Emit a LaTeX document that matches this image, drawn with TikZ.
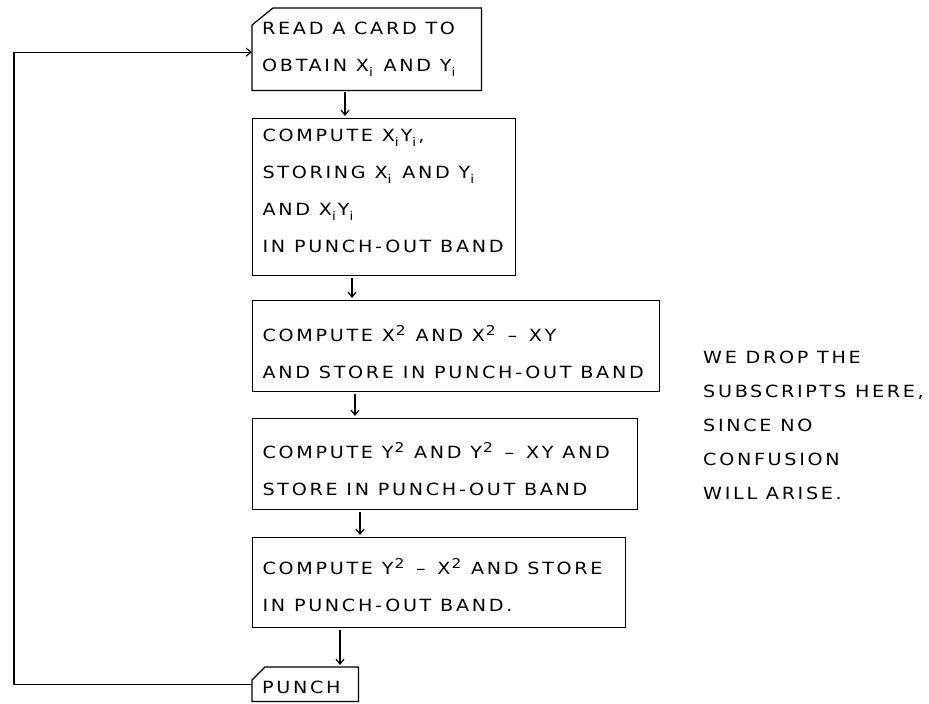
\documentclass[tikz,border=0pt]{standalone}
\usepackage{fontspec}
\setmainfont{DejaVu Sans}[FakeStretch=1.14, LetterSpace=16]
\usetikzlibrary{arrows.meta}
\newcommand{\lsub}[1]{\raisebox{-5pt}{\fontsize{12}{12}\selectfont #1}\kern2pt\relax}
\newcommand{\lsup}[1]{\kern1pt\raisebox{6.5pt}{\fontsize{13.5}{13.5}\selectfont #1}\kern1pt\relax}
\newcommand{\ldash}{\kern2pt–\kern3pt\relax}
\newcommand{\tstrut}[1]{\rule{0pt}{#1pt}}
\newcommand{\bstrut}[1]{\rule[-#1pt]{0pt}{#1pt}}
\newcommand{\wline}[2]{\makebox[#1pt][l]{#2}}
\begin{document}
\begin{tikzpicture}[x=1pt,y=-1pt,
  boxbase/.style={rectangle, anchor=north west, inner xsep=10pt, inner ysep=0pt,
    align=left, font=\fontsize{16.8}{37}\selectfont},
  box/.style={boxbase, draw, line width=1.2pt},
  note/.style={align=left, font=\fontsize{16.8}{34}\selectfont, inner sep=0pt},
  edge/.style={line width=1.2pt},
  arr/.style={edge, -{Straight Barb[length=5pt,width=8pt]}}]
\useasboundingbox (0,0) rectangle (929,704);

\node[boxbase, minimum width=229pt, minimum height=82pt] (b1) at (252,8)
  {\wline{209}{\tstrut{20}READ A CARD TO}\\OBTAIN X\lsub{i} AND Y\lsub{i}\bstrut{13}};
\draw[edge] ([yshift=-17pt]b1.north west) -- ([xshift=21pt]b1.north west) -- (b1.north east)
  -- (b1.south east) -- (b1.south west) -- cycle;

\node[box, minimum width=263pt, minimum height=157pt] (b2) at (252,118)
  {\wline{243}{\tstrut{16}COMPUTE X\lsub{i}Y\lsub{i},}\\STORING X\lsub{i} AND Y\lsub{i}\\AND X\lsub{i}Y\lsub{i}\\IN PUNCH-OUT BAND\bstrut{16}};

\node[box, minimum width=407pt, minimum height=91pt] (b3) at (252,300)
  {\wline{387}{\tstrut{36}COMPUTE X\lsup{2} AND X\lsup{2} \ldash{} XY}\\AND STORE IN PUNCH-OUT BAND\bstrut{8}};

\node[box, minimum width=385pt, minimum height=91pt] (b4) at (252,418)
  {\wline{365}{\tstrut{34}COMPUTE Y\lsup{2} AND Y\lsup{2} \ldash{} XY AND}\\STORE IN PUNCH-OUT BAND\bstrut{8}};

\node[box, minimum width=373pt, minimum height=90pt] (b5) at (252,537)
  {\wline{353}{\tstrut{29}COMPUTE Y\lsup{2} \ldash{} X\lsup{2} AND STORE}\\IN PUNCH-OUT BAND.\bstrut{8}};

\node[boxbase, minimum width=106pt, minimum height=34pt] (punch) at (252,667)
  {\wline{86}{\tstrut{22}PUNCH\bstrut{4}}};
\draw[edge] ([yshift=-13pt]punch.north west) -- ([xshift=13pt]punch.north west) -- (punch.north east)
  -- (punch.south east) -- (punch.south west) -- cycle;

\node[note, anchor=west] (note) at (703,426)
  {\tstrut{16}WE DROP THE\\SUBSCRIPTS HERE,\\SINCE NO\\CONFUSION\\WILL ARISE.\bstrut{6}};

\draw[arr] ([xshift=93pt,yshift=-2pt]b1.south west) -- ([xshift=93pt,yshift=2pt]b2.north west);
\draw[arr] ([xshift=100pt,yshift=-2pt]b2.south west) -- ([xshift=100pt,yshift=2pt]b3.north west);
\draw[arr] ([xshift=103pt,yshift=-2pt]b3.south west) -- ([xshift=103pt,yshift=2pt]b4.north west);
\draw[arr] ([xshift=108pt,yshift=-2pt]b4.south west) -- ([xshift=108pt,yshift=2pt]b5.north west);
\draw[arr] ([xshift=88pt,yshift=-2pt]b5.south west) -- ([xshift=88pt,yshift=2pt]punch.north west);

\coordinate (lx) at (14,0);
\draw[arr] (punch.west) -- (punch.west -| lx) |- ([yshift=-3pt]b1.west);
\end{tikzpicture}
\end{document}
